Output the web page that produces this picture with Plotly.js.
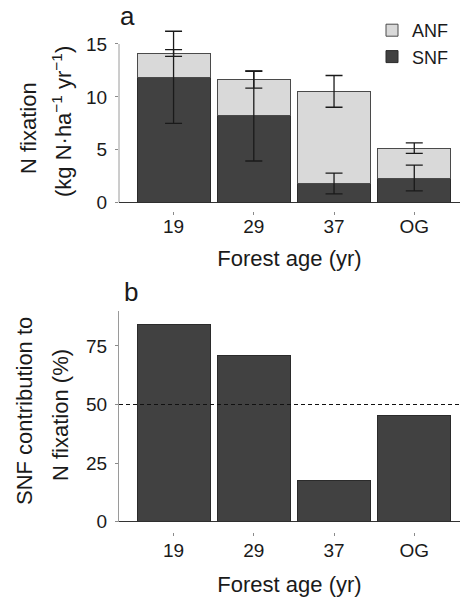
<!DOCTYPE html>
<html>
<head>
<meta charset="utf-8">
<script src="https://cdn.plot.ly/plotly-3.0.1.min.js"></script>
<style>
  html, body { margin: 0; padding: 0; background: #fff; }
  #chart { width: 460px; height: 601px; }
</style>
</head>
<body>
<div id="chart"></div>
<script>
// ---- data ----
const categories = ['19', '29', '37', 'OG'];
const snfValues = [11.85, 8.2, 1.81, 2.33];      // kg N ha-1 yr-1
const anfValues = [2.29, 3.42, 8.71, 2.83];      // stacked on top of SNF
const snfErrors = [4.35, 4.26, 0.98, 1.22];
const anfErrors = [0.32, 0.80, 1.50, 0.50];
const snfPercent = [84.2, 70.7, 17.5, 45.2];     // SNF contribution (%)
const referenceLine = 50;
const yTicksA = [0, 5, 10, 15];
const yTicksB = [0, 25, 50, 75];

// top of each stacked bar (where the ANF error bar sits)
const totals = snfValues.map((v, i) => v + anfValues[i]);

const FONT = '"Liberation Sans", Arial, Helvetica, sans-serif';
const TXT = '#1a1a1a';
const DARK = '#414141';
const LIGHT = '#d9d9d9';
const EDGE = '#2b2b2b';
const AXIS_GRAY = '#9a9a9a';

const W = 460, H = 601;
const px = v => v / W;
const py = v => 1 - v / H;

const errStyle = {type: 'data', visible: true, color: '#1a1a1a', thickness: 1.3, width: 8.5};

const traces = [
  {
    type: 'bar', name: 'SNF', x: categories, y: snfValues,
    xaxis: 'x', yaxis: 'y',
    marker: {color: DARK, line: {color: EDGE, width: 1}},
    hoverinfo: 'skip'
  },
  {
    type: 'bar', name: 'ANF', x: categories, y: anfValues,
    xaxis: 'x', yaxis: 'y',
    marker: {color: LIGHT, line: {color: '#4a4a4a', width: 1}},
    hoverinfo: 'skip'
  },
  {
    type: 'scatter', mode: 'markers', name: 'SNF error', x: categories, y: snfValues,
    xaxis: 'x', yaxis: 'y', showlegend: false,
    marker: {size: 1, opacity: 0},
    error_y: Object.assign({array: snfErrors}, errStyle),
    hoverinfo: 'skip'
  },
  {
    type: 'scatter', mode: 'markers', name: 'ANF error', x: categories, y: totals,
    xaxis: 'x', yaxis: 'y', showlegend: false,
    marker: {size: 1, opacity: 0},
    error_y: Object.assign({array: anfErrors}, errStyle),
    hoverinfo: 'skip'
  },
  {
    type: 'bar', name: 'SNF %', x: categories, y: snfPercent,
    xaxis: 'x2', yaxis: 'y2', showlegend: false,
    marker: {color: DARK, line: {color: EDGE, width: 1}},
    hoverinfo: 'skip'
  }
];

const xCommon = {
  type: 'category', range: [-0.68, 3.57], domain: [px(119), 1],
  anchor: 'free', showline: false, showgrid: false, zeroline: false,
  ticks: 'outside', ticklen: 3, tickwidth: 1, tickcolor: '#8a8a8a',
  tickfont: {family: FONT, size: 19, color: TXT},
  automargin: false, fixedrange: true
};
const yCommon = {
  showgrid: false, zeroline: true, zerolinecolor: '#333333', zerolinewidth: 1.5,
  ticks: 'outside', ticklen: 3, tickwidth: 1, tickcolor: '#8a8a8a',
  tickfont: {family: FONT, size: 19, color: TXT},
  ticklabelstandoff: 4, automargin: false, fixedrange: true
};
const titleFont = {family: FONT, size: 22, color: TXT};

const layout = {
  width: W, height: H,
  margin: {l: 0, r: 0, t: 0, b: 0},
  paper_bgcolor: '#fff', plot_bgcolor: '#fff',
  barmode: 'stack', bargap: 0.09,
  showlegend: true,
  legend: {
    x: px(372), y: py(12), xanchor: 'left', yanchor: 'top',
    font: {family: FONT, size: 18, color: TXT},
    bgcolor: 'rgba(0,0,0,0)', tracegroupgap: 0, traceorder: 'reversed'
  },
  xaxis: Object.assign({}, xCommon, {position: py(210.5), ticklabelstandoff: -4,
    title: {text: 'Forest age (yr)', font: titleFont, standoff: 14}}),
  // top panel: range reaches past 15 so the tallest error bar is not cut;
  // the visible axis line stops at 15 (drawn as a shape below)
  yaxis: Object.assign({}, yCommon, {
    domain: [py(202.7), py(28.1)], range: [0, 16.5], anchor: 'x',
    showline: false, tickvals: yTicksA
  }),
  xaxis2: Object.assign({}, xCommon, {position: py(531.5), ticklabelstandoff: -1,
    title: {text: 'Forest age (yr)', font: titleFont, standoff: 16}}),
  yaxis2: Object.assign({}, yCommon, {
    domain: [py(521.7), py(310.7)], range: [0, 90], anchor: 'x2',
    showline: true, linecolor: AXIS_GRAY, linewidth: 1, tickvals: yTicksB
  }),
  shapes: [
    {
      type: 'line', xref: 'x domain', yref: 'y', x0: 0, x1: 0,
      y0: yTicksA[0], y1: yTicksA[yTicksA.length - 1], layer: 'below',
      line: {color: AXIS_GRAY, width: 1}
    },
    {
      type: 'line', xref: 'x2 domain', yref: 'y2', x0: 0, x1: 1,
      y0: referenceLine, y1: referenceLine, layer: 'above',
      line: {color: '#111', width: 1.2, dash: '4px,3px'}
    }
  ],
  annotations: [
    {text: 'a', xref: 'paper', yref: 'paper', x: px(127), y: py(16), xanchor: 'center', yanchor: 'middle',
     showarrow: false, font: {family: FONT, size: 26, color: TXT}},
    {text: 'b', xref: 'paper', yref: 'paper', x: px(131), y: py(292), xanchor: 'center', yanchor: 'middle',
     showarrow: false, font: {family: FONT, size: 26, color: TXT}},
    {text: 'N fixation', xref: 'paper', yref: 'paper', x: px(28), y: py(128), textangle: -90,
     xanchor: 'center', yanchor: 'middle', showarrow: false, font: titleFont},
    {text: '(kg N\u00b7ha<sup>\u22121</sup> yr<sup>\u22121</sup>)', xref: 'paper', yref: 'paper', x: px(62), y: py(122), textangle: -90,
     xanchor: 'center', yanchor: 'middle', showarrow: false, font: titleFont},
    {text: 'SNF contribution to', xref: 'paper', yref: 'paper', x: px(25), y: py(411), textangle: -90,
     xanchor: 'center', yanchor: 'middle', showarrow: false, font: titleFont},
    {text: 'N fixation (%)', xref: 'paper', yref: 'paper', x: px(60), y: py(415), textangle: -90,
     xanchor: 'center', yanchor: 'middle', showarrow: false, font: titleFont}
  ]
};

Plotly.newPlot('chart', traces, layout, {displayModeBar: false, staticPlot: true});
</script>
</body>
</html>
